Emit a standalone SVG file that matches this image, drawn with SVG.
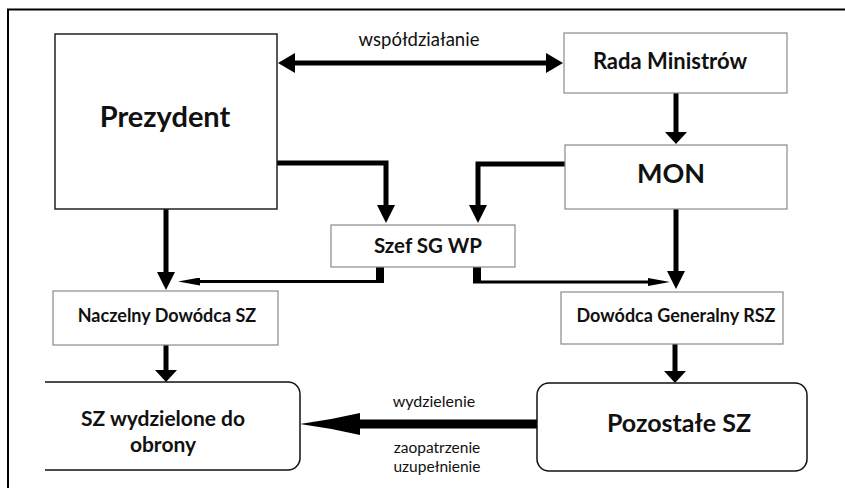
<svg xmlns="http://www.w3.org/2000/svg" width="845" height="488" viewBox="0 0 845 488">
  <style>
    .box { fill: #ffffff; stroke: #8a8a8a; stroke-width: 1.2; }
    .dark { stroke: #222222; stroke-width: 1.5; }
    .t { font-family: Lato, "Open Sans", "Liberation Sans", sans-serif; fill: #111111; text-anchor: middle; }
    .b { font-weight: bold; }
    .lbl { font-family: Lato, "Open Sans", "Liberation Sans", sans-serif; fill: #111111; text-anchor: middle; font-size: 16px; }
    .thick { fill: none; stroke: #000000; stroke-width: 5; }
    .thin { fill: none; stroke: #000000; stroke-width: 3; }
  </style>
  <defs>
    <marker id="ahDbl" markerUnits="userSpaceOnUse" viewBox="0 0 17 20" refX="0" refY="10" markerWidth="17" markerHeight="20" orient="auto-start-reverse">
      <path d="M0,0 L17,10 L0,20 z" fill="#000"/>
    </marker>
    <marker id="ahShort" markerUnits="userSpaceOnUse" viewBox="0 0 12 22" refX="0" refY="11" markerWidth="12" markerHeight="22" orient="auto">
      <path d="M0,0 L12,11 L0,22 z" fill="#000"/>
    </marker>
    <marker id="ahLong" markerUnits="userSpaceOnUse" viewBox="0 0 18 18" refX="0" refY="9" markerWidth="18" markerHeight="18" orient="auto">
      <path d="M0,0 L18,9 L0,18 z" fill="#000"/>
    </marker>
    <marker id="ahThin" markerUnits="userSpaceOnUse" viewBox="0 0 22 8" refX="0" refY="4" markerWidth="22" markerHeight="8" orient="auto">
      <path d="M0,0 L22,4 L0,8 z" fill="#000"/>
    </marker>
    <marker id="ahBig" markerUnits="userSpaceOnUse" viewBox="0 0 60 22" refX="0" refY="11" markerWidth="60" markerHeight="22" orient="auto">
      <path d="M0,0 Q30,7 60,11 Q30,15 0,22 z" fill="#000"/>
    </marker>
  </defs>

  <!-- frame -->
  <g id="frame">
    <path d="M8,488 V9.5 H845" fill="none" stroke="#000" stroke-width="2"/>
  </g>

  <g id="connectors">
    <!-- współdziałanie double arrow -->
    <path class="thick" d="M295,63 H546" marker-start="url(#ahDbl)" marker-end="url(#ahDbl)"/>
    <!-- Rada Ministrów -> MON -->
    <path class="thick" d="M676,93 V132" marker-end="url(#ahShort)"/>
    <!-- Prezydent -> Szef SG WP -->
    <path class="thick" d="M277,163 H386 V205" marker-end="url(#ahLong)"/>
    <!-- MON -> Szef SG WP -->
    <path class="thick" d="M565,164 H478 V205" marker-end="url(#ahLong)"/>
    <!-- Prezydent -> Naczelny Dowódca SZ -->
    <path class="thick" d="M166,209 V272" marker-end="url(#ahLong)"/>
    <!-- MON -> Dowódca Generalny RSZ -->
    <path class="thick" d="M676,209 V271" marker-end="url(#ahLong)"/>
    <!-- Szef SG WP -> Naczelny Dowódca SZ -->
    <path d="M380,267 V283" stroke="#000" stroke-width="8" fill="none"/>
    <path class="thin" d="M384,281.5 H200" marker-end="url(#ahThin)"/>
    <!-- Szef SG WP -> Dowódca Generalny RSZ -->
    <path d="M477,267 V283" stroke="#000" stroke-width="8" fill="none"/>
    <path class="thin" d="M473,282 H648" marker-end="url(#ahThin)"/>
    <!-- Naczelny Dowódca SZ -> SZ wydzielone do obrony -->
    <path class="thick" d="M166,345 V370" marker-end="url(#ahShort)"/>
    <!-- Dowódca Generalny RSZ -> Pozostałe SZ -->
    <path class="thick" d="M675,344 V371" marker-end="url(#ahShort)"/>
    <!-- Pozostałe SZ -> SZ wydzielone do obrony -->
    <path d="M538,424 H360" stroke="#000" stroke-width="9" fill="none" marker-end="url(#ahBig)"/>
    <text class="lbl" x="419" y="46" style="font-size:18.5px">współdziałanie</text>
    <text class="lbl" x="434" y="407">wydzielenie</text>
    <text class="lbl" x="437" y="453" style="font-size:15.5px">zaopatrzenie</text>
    <text class="lbl" x="437" y="472" style="font-size:15.5px">uzupełnienie</text>
  </g>

  <g id="prezydent">
    <rect class="box dark" x="55" y="34" width="222" height="175"/>
    <text class="t b" x="165" y="127" font-size="29">Prezydent</text>
  </g>

  <g id="rada-ministrow">
    <rect class="box" x="564" y="33" width="223" height="60"/>
    <text class="t b" x="670" y="69" font-size="22">Rada Ministrów</text>
  </g>

  <g id="mon">
    <rect class="box" x="565" y="145" width="222" height="64"/>
    <text class="t b" x="671" y="183" font-size="27">MON</text>
  </g>

  <g id="szef-sg-wp">
    <rect class="box" x="331" y="225" width="184" height="42"/>
    <text class="t b" x="428" y="253" font-size="20.5">Szef SG WP</text>
  </g>

  <g id="naczelny-dowodca">
    <rect class="box" x="53" y="291" width="225" height="54"/>
    <text class="t b" x="167" y="322" font-size="18">Naczelny Dowódca SZ</text>
  </g>

  <g id="dowodca-generalny">
    <rect class="box" x="561" y="292" width="222" height="52"/>
    <text class="t b" x="676" y="322" font-size="18">Dowódca Generalny RSZ</text>
  </g>

  <g id="sz-wydzielone">
    <path d="M45,382 H288 A12,12 0 0 1 300,394 V458 A12,12 0 0 1 288,470 H45" fill="#fff" stroke="#111" stroke-width="1.5"/>
    <text class="t b" x="163" y="426" font-size="21">SZ wydzielone do</text>
    <text class="t b" x="163" y="452" font-size="21">obrony</text>
  </g>

  <g id="pozostale-sz">
    <rect x="537" y="383" width="270" height="88" rx="12" ry="12" fill="#fff" stroke="#111" stroke-width="1.5"/>
    <text class="t b" x="679" y="432" font-size="25">Pozostałe SZ</text>
  </g>
</svg>
